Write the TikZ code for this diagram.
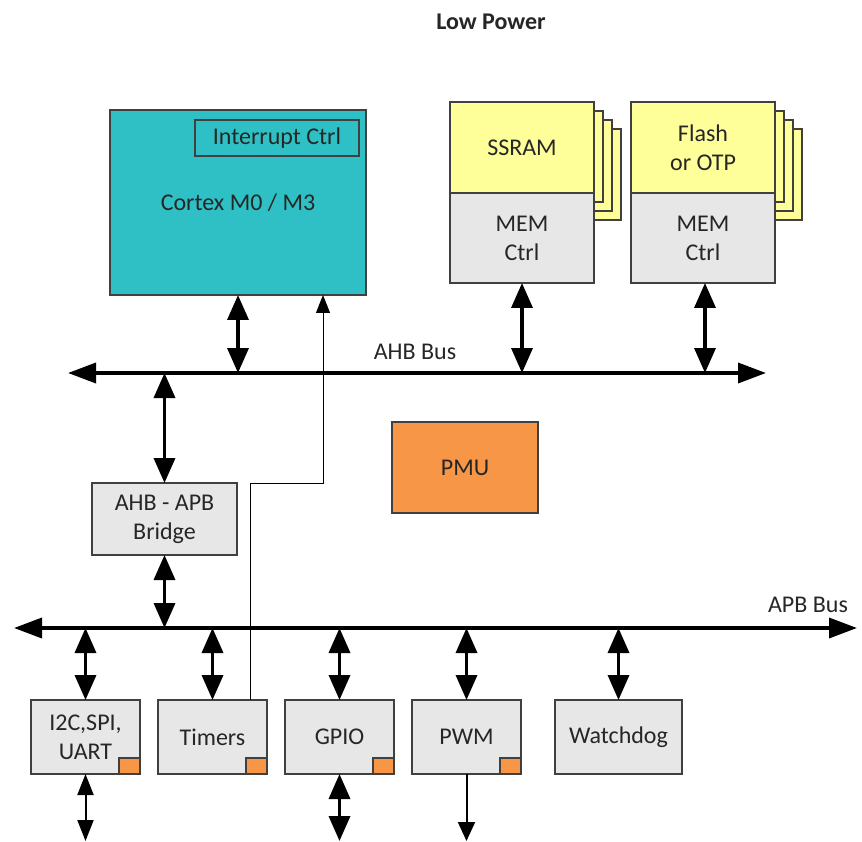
\documentclass[tikz,border=0pt]{standalone}
\usepackage{fontspec}
\setmainfont{Carlito}
\usepackage{tikz}
\usetikzlibrary{positioning}
\usetikzlibrary{arrows.meta, backgrounds, calc}
\definecolor{coreteal}{RGB}{46,192,196}
\definecolor{memyellow}{RGB}{255,255,153}
\definecolor{ctlgray}{RGB}{231,231,231}
\definecolor{pmuorange}{RGB}{247,150,70}
\definecolor{edgegray}{RGB}{64,64,64}
\definecolor{inkdark}{RGB}{38,38,38}

\begin{document}
\begin{tikzpicture}[x=1pt, y=-1pt, font=\fontsize{24}{29}\selectfont, every node/.style={text=inkdark, align=center}]%
            \tikzstyle{blk} = [ rectangle, draw = edgegray, line width = 1.5pt, inner sep = 0pt, outer sep = 0pt]
            \tikzstyle{core} = [ blk, fill = coreteal, minimum width = 256pt, minimum height = 185pt]
            \tikzstyle{mem} = [ blk, fill = memyellow, minimum width = 144pt, minimum height = 91pt]
            \tikzstyle{ctl} = [ blk, fill = ctlgray, minimum width = 144pt, minimum height = 90pt]
            \tikzstyle{per} = [ blk, fill = ctlgray, minimum width = 109pt, minimum height = 74pt]
            \tikzstyle{sheet} = [ draw = edgegray, line width = 1.5pt, fill = memyellow]
            \tikzstyle{tag} = [ draw = edgegray, line width = 1.2pt, fill = pmuorange]
            \tikzstyle{bus} = [ line width = 3.5pt, {Triangle[length=28pt, width=20pt]}-{Triangle[length=28pt, width=20pt]}]
            \tikzstyle{link} = [ line width = 3.5pt, {Triangle[length=25pt, width=21pt]}-{Triangle[length=25pt, width=21pt]}]
            \tikzstyle{io} = [ line width = 2pt, {Triangle[length=21pt, width=16pt]}-{Triangle[length=21pt, width=16pt]}]
            \tikzstyle{drive} = [ line width = 2pt, -{Triangle[length=19pt, width=17pt]}]
            \tikzstyle{wire} = [ line width = 1pt, -{Triangle[length=18pt, width=14pt]}]
        %%
            \useasboundingbox (0,0) rectangle (862,842);
            \node [font = \fontsize{24}{29}\selectfont\bfseries] (title) at (491,22) {Low Power};
            \begin{scope}[node distance = 0pt and 37pt]%
                %% Processor
                \node [core] (m0) at (238,202.5) {Cortex M0 / M3};
                \node [blk, fill = coreteal, minimum width = 164pt, minimum height = 36pt] (irq) at (277,138) {Interrupt Ctrl};

                %% Memories
                \node [mem] (ssram) at (522,147.5) {SSRAM};
                \node [ctl] (ssram_ctl) [below = of ssram] {MEM\\Ctrl};
                \node [mem] (flash) [right = of ssram] {Flash\\or OTP};
                \node [ctl] (flash_ctl) [below = of flash] {MEM\\Ctrl};
            \end{scope}%
            \begin{scope}[on background layer]
                \foreach \k in {3,2,1} {
                    \draw [sheet] ($(ssram.north west)+(9*\k,9*\k)$) rectangle ($(ssram.south east)+(9*\k,9*\k)$);
                    \draw [sheet] ($(flash.north west)+(9*\k,9*\k)$) rectangle ($(flash.south east)+(9*\k,9*\k)$);
                }
            \end{scope}

            %% Buses
            \coordinate (ahb_w) at (68,373);
            \coordinate (ahb_e) at (766,373);
            \coordinate (apb_w) at (14,628);
            \coordinate (apb_e) at (857,628);
            \coordinate (pad) at (0,841);
            \draw [bus] (ahb_w) -- (ahb_e);
            \draw [bus] (apb_w) -- (apb_e);
            \node (ahb_lbl) at (415,352) {AHB Bus};
            \node (apb_lbl) at (808,605) {APB Bus};

            %% Bridge and PMU
            \node [blk, fill = ctlgray, minimum width = 145pt, minimum height = 72pt] (brg) at (164.5,519) {AHB - APB\\Bridge};
            \node [blk, fill = pmuorange, minimum width = 146pt, minimum height = 91pt] (pmu) at (465,467.5) {PMU};

            %% Peripherals
            \begin{scope}[node distance = 18pt]%
                \node [per] (i2c) at (85.5,737) {I2C,SPI,\\UART};
                \node [per] (tmr) [right = of i2c] {Timers};
                \node [per] (gpio) [right = of tmr] {GPIO};
                \node [per] (pwm) [right = of gpio] {PWM};
                \node [per, minimum width = 127pt] (wdog) [right = 34pt of pwm] {Watchdog};
            \end{scope}%
            \foreach \p in {i2c, tmr, gpio, pwm}
                \draw [tag] ($(\p.south east)+(-21,-16)$) rectangle (\p.south east);

            %% Connections
            \draw [link] (m0.south) -- (m0.south |- ahb_w);
            \draw [link] (ssram_ctl.south) -- (ssram_ctl.south |- ahb_w);
            \draw [link] ($(flash_ctl.south)+(2,0)$) -- ($(flash_ctl.south |- ahb_w)+(2,0)$);
            \draw [link] (brg.north) -- (brg.north |- ahb_w);
            \draw [link] (brg.south) -- (brg.south |- apb_w);
            \foreach \p in {i2c, tmr, gpio, pwm, wdog}
                \draw [link] (\p.north |- apb_w) -- (\p.north);
            \coordinate (bend) at (323,483);
            \draw [wire] ($(tmr.north east)+(-17,0)$) |- (bend) -- (bend |- m0.south);
            \draw [io] (i2c.south) -- (i2c.south |- pad);
            \draw [link] (gpio.south) -- (gpio.south |- pad);
            \draw [drive] (pwm.south) -- (pwm.south |- pad);
        \end{tikzpicture}
\end{document}
